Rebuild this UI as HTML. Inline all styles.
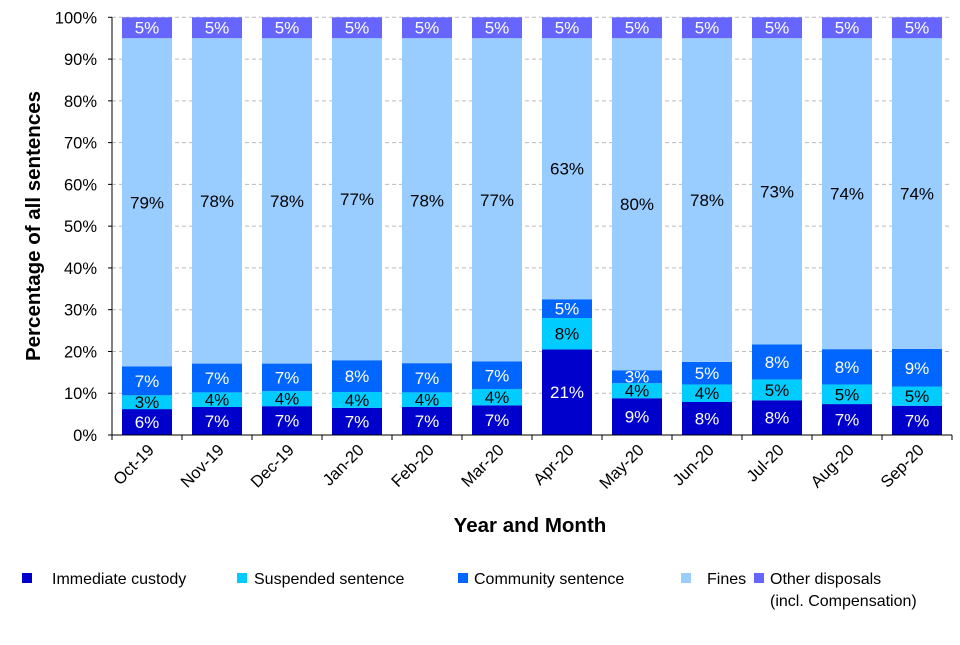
<!DOCTYPE html>
<html><head><meta charset="utf-8"><style>
body{margin:0;background:#fff;font-family:"Liberation Sans",Arial,sans-serif}
svg text{font-family:"Liberation Sans",Arial,sans-serif}
</style></head><body>
<svg id="chart" width="960" height="640" xmlns="http://www.w3.org/2000/svg">
<g id="grid"></g><g id="bars"></g><g id="axes"></g>
<text transform="translate(40,226) rotate(-90)" text-anchor="middle" font-size="20.5" font-weight="bold">Percentage of all sentences</text>
<text x="530" y="532" text-anchor="middle" font-size="20.5" font-weight="bold">Year and Month</text>
<g font-size="16">
<rect x="22" y="573" width="10" height="10" fill="#0000CC"/><text x="52" y="584">Immediate custody</text>
<rect x="237" y="573" width="10" height="10" fill="#00CCFF"/><text x="254" y="584">Suspended sentence</text>
<rect x="458" y="573" width="10" height="10" fill="#0066FF"/><text x="474" y="584">Community sentence</text>
<rect x="681" y="573" width="10" height="10" fill="#99CCFF"/><text x="707" y="584">Fines</text>
<rect x="754" y="573" width="10" height="10" fill="#6666FF"/><text x="770" y="584">Other disposals</text><text x="770" y="606">(incl. Compensation)</text>
</g>
</svg>
<script>
const categories=["Oct-19","Nov-19","Dec-19","Jan-20","Feb-20","Mar-20","Apr-20","May-20","Jun-20","Jul-20","Aug-20","Sep-20"];
const custody=[6.2,6.7,6.9,6.5,6.7,7.1,20.5,8.8,7.9,8.3,7.4,7.0];
const suspended=[3.3,3.5,3.6,3.8,3.5,3.9,7.5,3.6,4.2,5.0,4.7,4.6];
const community=[6.9,6.9,6.6,7.6,7.0,6.6,4.5,3.1,5.4,8.4,8.45,9.0];
const fines=[78.6,77.9,77.9,77.1,77.8,77.4,62.5,79.5,77.5,73.3,74.45,74.4];
const other=[5,5,5,5,5,5,5,5,5,5,5,5];
const yTicks=[0,10,20,30,40,50,60,70,80,90,100];
const NS="http://www.w3.org/2000/svg";
const x0=112,x1=952,yBot=435,yTop=17.3,bw=50;
const step=(x1-x0)/categories.length;
const y=v=>yBot-(v/100)*(yBot-yTop);
const xc=i=>x0+step*(i+0.5);
function mk(tag,attrs,parent){const e=document.createElementNS(NS,tag);for(const k in attrs)e.setAttribute(k,attrs[k]);parent.appendChild(e);return e;}
const grid=document.getElementById('grid'),bars=document.getElementById('bars'),axes=document.getElementById('axes');
yTicks.forEach(t=>{
 if(t>0){const g=mk('line',{x1:x0,x2:x1,y1:y(t),y2:y(t),stroke:'#bbb','stroke-dasharray':'4,3'},grid);
 
 }
 const tl=mk('text',{x:97,y:y(t)+6,'text-anchor':'end','font-size':'16.5'},axes);tl.textContent=t+'%';
 
 
 mk('line',{x1:x0-4,x2:x0,y1:y(t),y2:y(t),stroke:'#000'},axes);
});
const series=[[custody,'#0000CC','#fff','custody'],[suspended,'#00CCFF','#000','suspended'],[community,'#0066FF','#fff','community'],[fines,'#99CCFF','#000','fines'],[other,'#6666FF','#fff','other']];
categories.forEach((c,i)=>{
 let cum=0;
 series.forEach(([arr,col,tc,nm])=>{
  const v=arr[i];const yt=y(cum+v),yb=y(cum);
  const r=mk('rect',{x:xc(i)-bw/2,y:yt,width:bw,height:yb-yt,fill:col},bars);
  
  
  const t=mk('text',{x:xc(i),y:(yt+yb)/2+6,'text-anchor':'middle','font-size':'17',fill:tc},bars);
  t.textContent=Math.round(v)+'%';
  
  
  cum+=v;
 });
 const lb=mk('text',{transform:`translate(${xc(i)+8},${yBot+16}) rotate(-45)`,'text-anchor':'end','font-size':'16.5'},axes);
 lb.textContent=c;
 
 
});
for(let i=0;i<=categories.length;i++)mk('line',{x1:x0+step*i,x2:x0+step*i,y1:yBot,y2:yBot+5,stroke:'#000'},axes);
mk('line',{x1:x0,x2:x0,y1:yTop,y2:yBot,stroke:'#000'},axes);
mk('line',{x1:x0,x2:x1,y1:yBot,y2:yBot,stroke:'#000'},axes);
</script>
</body></html>
